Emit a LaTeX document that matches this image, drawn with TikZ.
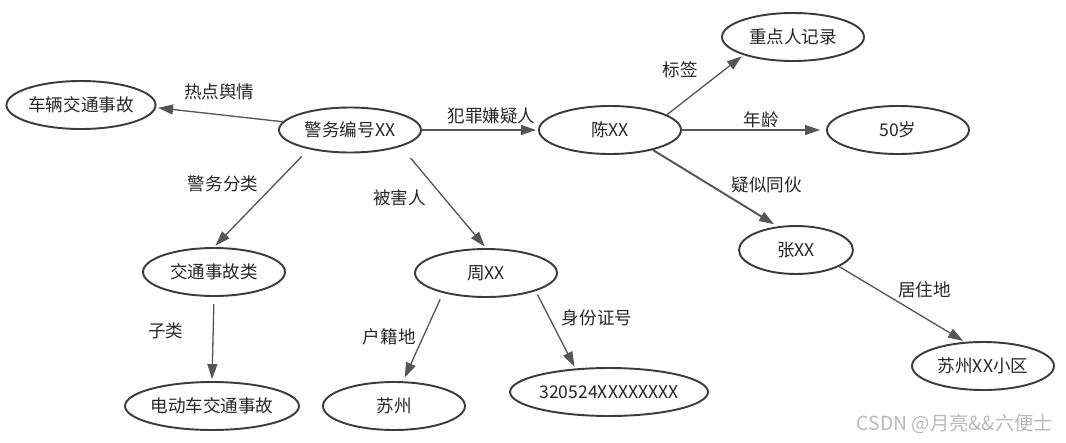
\documentclass[tikz,border=0pt]{standalone}
\usepackage{fontspec}
\setmainfont{Noto Sans CJK SC}
\usepackage{xcolor}
\usetikzlibrary{arrows.meta,shapes.geometric}
\definecolor{rim}{HTML}{3C3C3C}
\definecolor{edge}{HTML}{555555}
\tikzstyle{ovals} = [ellipse, draw=rim, line width=1.1pt, minimum width=2.84cm, minimum height=0.96cm, inner sep=0pt, text=black!85]
\tikzstyle{arrow} = [draw=edge, line width=0.75pt, -{Triangle[length=0.3cm, width=0.2cm]}, shorten >=0.04cm]
\tikzstyle{tag} = [text=black!85, inner sep=1pt]

\begin{document}
\begin{tikzpicture}[x=0.02cm, y=-0.02cm, font=\fontsize{10}{12}\selectfont]
            \useasboundingbox (0,0) rectangle (1066,443);
            % Draw Ovals
            \node(jwbh) [ovals, minimum height=0.9cm] at (350,130) {警务编号XX};
            \node(clsg) [ovals] at (81,105) {车辆交通事故};
            \node(chen) [ovals] at (610,130) {陈XX};
            \node(zdr) [ovals] at (793,37) {重点人记录};
            \node(age) [ovals] at (898,130) {50岁};
            \node(zhang) [ovals, minimum width=2.28cm] at (796,250) {张XX};
            \node(xiaoqu) [ovals] at (983,366) {苏州XX小区};
            \node(jtsg) [ovals] at (214,272) {交通事故类};
            \node(ddc) [ovals] at (212,406) {电动车交通事故};
            \node(zhou) [ovals] at (486,273) {周XX};
            \node(suzhou) [ovals] at (394,406) {苏州};
            \node(sfz) [ovals, minimum width=3.96cm] at (609,392) {320524XXXXXXXX};

            % Draw Arrows
            \draw[arrow] (jwbh.173) -- (clsg.-2) node[tag, midway, above=0.25cm] {热点舆情};
            \draw[arrow] (jwbh.east) -- (chen.west) node[tag, pos=0.6, above=0.08cm] {犯罪嫌疑人};
            \draw[arrow, shorten <=0.2cm] (jwbh.205) -- (jtsg.north) node[tag, pos=0.35, left=0.3cm] {警务分类};
            \draw[arrow, shorten <=0.3cm] (jwbh.-18) -- (zhou.north) node[tag, midway, left=0.3cm] {被害人};
            \draw[arrow, shorten <=0.14cm] (jtsg.south) -- (ddc.north) node[tag, pos=0.4, left=0.55cm] {子类};
            \draw[arrow, shorten <=0.14cm, shorten >=0.08cm] (zhou.205) -- (suzhou.70) node[tag, midway, left=0.1cm] {户籍地};
            \draw[arrow, shorten <=0.08cm] (zhou.-20) -- (sfz.145) node[tag, pos=0.35, right=0.2cm] {身份证号};
            \draw[arrow] (chen.15) -- (zdr.200) node[tag, midway, above left=0.1cm] {标签};
            \draw[arrow, shorten >=0.12cm] (chen.east) -- (age.west) node[tag, pos=0.55, above] {年龄};
            \draw[arrow, line width=1.1pt, shorten >=0.08cm] (chen.-25) -- (zhang.128) node[tag, pos=0.45, right=0.4cm] {疑似同伙};
            \draw[arrow] (zhang.-21) -- (xiaoqu.127) node[tag, pos=0.45, anchor=south west] {居住地};

            % Watermark
            \node(mark) [text=gray!55, font=\fontsize{11}{13}\selectfont] at (955,424) {CSDN @月亮\&\&六便士};
        \end{tikzpicture}
\end{document}
